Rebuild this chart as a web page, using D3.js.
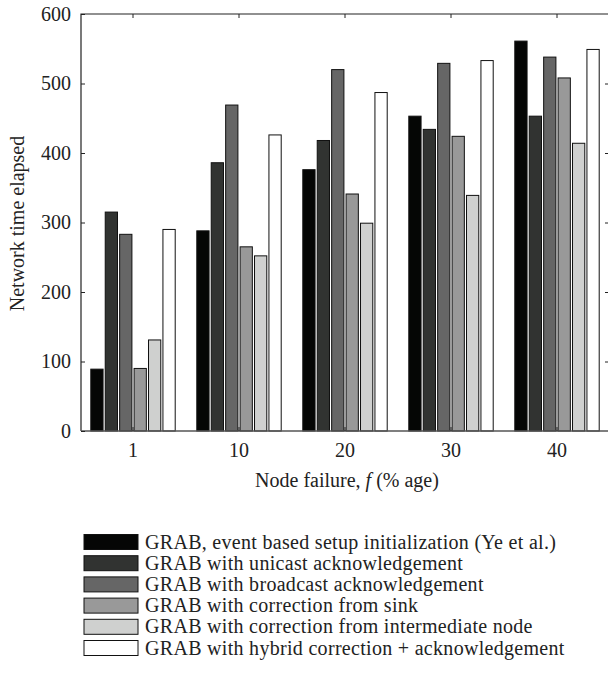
<!DOCTYPE html>
<html>
<head>
<meta charset="utf-8">
<script src="https://cdn.jsdelivr.net/npm/d3@7"></script>
<style>
  body { margin: 0; background: #fff; }
  svg { display: block; font-family: "Liberation Serif", "DejaVu Serif", serif; }
</style>
</head>
<body>
<div id="plot"></div>
<script>
// Data
var categories = ["1", "10", "20", "30", "40"];
var seriesNames = [
    "GRAB, event based setup initialization (Ye et al.)",
    "GRAB with unicast acknowledgement",
    "GRAB with broadcast acknowledgement",
    "GRAB with correction from sink",
    "GRAB with correction from intermediate node",
    "GRAB with hybrid correction + acknowledgement"
];
var eventBased   = [89, 288, 376, 453, 561];
var unicastAck   = [315, 386, 418, 434, 453];
var broadcastAck = [283, 469, 520, 529, 538];
var sinkCorr     = [90, 265, 341, 424, 508];
var interCorr    = [131, 252, 299, 339, 414];
var hybridCorr   = [290, 426, 487, 533, 549];
var yTicks = [0, 100, 200, 300, 400, 500, 600];

var seriesValues = [eventBased, unicastAck, broadcastAck, sinkCorr, interCorr, hybridCorr];
var fills = ["#050605", "#313331", "#666666", "#999999", "#cfd0cf", "#ffffff"];

// Layout
var width = 608, height = 681;
var plotLeft = 81, plotRight = 609, plotTop = 14, plotBottom = 431;
var tickLen = 4;

var svg = d3.select("#plot")
    .append("svg")
    .attr("width", width)
    .attr("height", height);

var y = d3.scaleLinear().domain([0, 600]).range([plotBottom, plotTop]);
var x0 = d3.scaleBand().domain(categories).range([80, 610]).padding(0);
var x1 = d3.scaleBand().domain(d3.range(seriesNames.length)).range([-42.2, 42.2]).paddingInner(0.15);

// Bars
var groups = svg.selectAll("g.group")
    .data(categories)
    .enter()
    .append("g")
    .attr("class", "group")
    .attr("transform", function(d) { return "translate(" + (x0(d) + x0.bandwidth() / 2) + ",0)"; });

groups.selectAll("rect")
    .data(function(d, i) {
        return seriesValues.map(function(vals, s) { return { s: s, v: vals[i] }; });
    })
    .enter()
    .append("rect")
    .attr("x", function(d) { return x1(d.s); })
    .attr("y", function(d) { return y(d.v); })
    .attr("width", x1.bandwidth())
    .attr("height", function(d) { return plotBottom - y(d.v); })
    .attr("fill", function(d) { return fills[d.s]; })
    .attr("stroke", "#111")
    .attr("stroke-width", 1);

// Frame
svg.append("path")
    .attr("d", "M" + plotLeft + "," + plotBottom + "V" + plotTop + "H" + plotRight + "V" + plotBottom)
    .attr("fill", "none")
    .attr("stroke", "#222")
    .attr("stroke-width", 1.2);
svg.append("line")
    .attr("x1", plotLeft).attr("x2", plotRight)
    .attr("y1", plotBottom).attr("y2", plotBottom)
    .attr("stroke", "#555")
    .attr("stroke-width", 1.5);

// Y axis (ticks point inward)
var yAxis = svg.append("g")
    .attr("transform", "translate(" + plotLeft + ",0)")
    .call(d3.axisLeft(y).tickValues(yTicks).tickSize(-tickLen).tickPadding(10));
yAxis.select(".domain").remove();
yAxis.selectAll("line").attr("stroke", "#222");
yAxis.selectAll("text").attr("font-size", 20).attr("fill", "#222")
    .attr("font-family", "Liberation Serif");

// Right side mirror ticks
var yRight = svg.append("g")
    .attr("transform", "translate(" + plotRight + ",0)")
    .call(d3.axisRight(y).tickValues(yTicks.slice(1, -1)).tickSize(-tickLen).tickFormat(""));
yRight.select(".domain").remove();
yRight.selectAll("line").attr("stroke", "#222");

// X axis
var xAxis = svg.append("g")
    .attr("transform", "translate(0," + plotBottom + ")")
    .call(d3.axisBottom(x0).tickSize(-tickLen).tickPadding(12));
xAxis.select(".domain").remove();
xAxis.selectAll("line").attr("stroke", "#222");
xAxis.selectAll("text").attr("font-size", 20).attr("fill", "#222")
    .attr("font-family", "Liberation Serif");

// Top mirror ticks
var xTop = svg.append("g")
    .attr("transform", "translate(0," + plotTop + ")")
    .call(d3.axisTop(x0).tickSize(-tickLen).tickFormat(""));
xTop.select(".domain").remove();
xTop.selectAll("line").attr("stroke", "#222");

// Axis titles
svg.append("text")
    .attr("transform", "translate(24," + ((plotTop + plotBottom) / 2 + 1) + ") rotate(-90)")
    .attr("text-anchor", "middle")
    .attr("font-size", 20)
    .attr("fill", "#222")
    .text("Network time elapsed");

var xTitle = svg.append("text")
    .attr("x", 347)
    .attr("y", 487)
    .attr("text-anchor", "middle")
    .attr("font-size", 20)
    .attr("fill", "#222");
xTitle.append("tspan").text("Node failure, ");
xTitle.append("tspan").attr("font-style", "italic").text("f");
xTitle.append("tspan").text(" (% age)");

// Legend
var legend = svg.selectAll("g.legend")
    .data(seriesNames)
    .enter()
    .append("g")
    .attr("class", "legend")
    .attr("transform", function(d, i) { return "translate(0," + (542 + i * 21.2) + ")"; });

legend.append("rect")
    .attr("x", 84)
    .attr("y", -7.5)
    .attr("width", 54)
    .attr("height", 15)
    .attr("fill", function(d, i) { return fills[i]; })
    .attr("stroke", "#111")
    .attr("stroke-width", 1);

legend.append("text")
    .attr("x", 145)
    .attr("y", 6.5)
    .attr("font-size", 20)
    .attr("letter-spacing", 0.3)
    .attr("fill", "#222")
    .text(function(d) { return d; });
</script>
</body>
</html>
